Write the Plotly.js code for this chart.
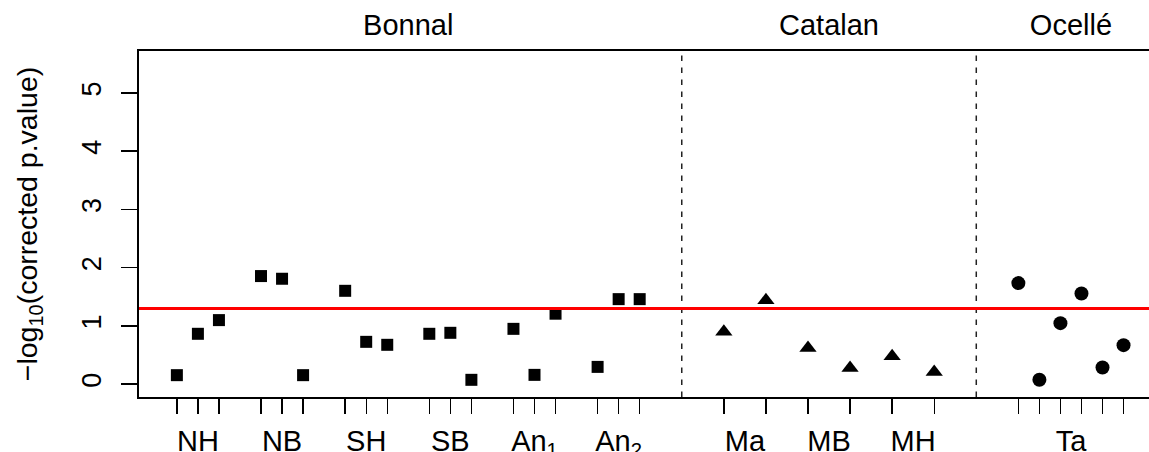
<!DOCTYPE html>
<html>
<head>
<meta charset="utf-8">
<script src="https://cdn.plot.ly/plotly-3.0.1.min.js"></script>
<style>
  html, body { margin: 0; padding: 0; background: #ffffff; }
  #chart { width: 1149px; height: 452px; }
</style>
</head>
<body>
<div id="chart"></div>
<script>
// ---- data ----
const regions = ['Bonnal', 'Catalan', 'Ocellé'];

const bonnalGroups = ['NH', 'NB', 'SH', 'SB', 'An<sub>1</sub>', 'An<sub>2</sub>'];
const bonnalValues = [0.155, 0.865, 1.10,
                      1.856, 1.81, 0.155,
                      1.603, 0.727, 0.676,
                      0.865, 0.882, 0.075,
                      0.95, 0.16, 1.21,
                      0.297, 1.46, 1.46];

const catalanGroups = ['Ma', 'MB', 'MH'];
const catalanValues = [0.90, 1.44, 0.62, 0.28, 0.48, 0.21];

const ocelleGroups = ['Ta'];
const ocelleValues = [1.735, 0.075, 1.048, 1.558, 0.287, 0.67];

const pThreshold = 0.05;

// ---- x positions built from the group structure ----
const bonnalX = [], catalanX = [], ocelleX = [];
const groupCenters = [], groupLabels = [];
let p = 1;
bonnalGroups.forEach(function (g) {
  const xs = [];
  for (let k = 0; k < 3; k++) { xs.push(p); p += 1; }
  bonnalX.push.apply(bonnalX, xs);
  groupCenters.push((xs[0] + xs[xs.length - 1]) / 2); groupLabels.push(g);
  p += 1;
});
const sep1 = p; p += 2;
catalanGroups.forEach(function (g) {
  const xs = [p, p + 2];
  p += 4;
  catalanX.push.apply(catalanX, xs);
  groupCenters.push((xs[0] + xs[1]) / 2); groupLabels.push(g);
});
const sep2 = p; p = sep2 + 2;
for (let k = 0; k < ocelleValues.length; k++) { ocelleX.push(p); p += 1; }
groupCenters.push((ocelleX[0] + ocelleX[ocelleX.length - 1]) / 2); groupLabels.push(ocelleGroups[0]);

const regionCenters = [
  (bonnalX[0] + bonnalX[bonnalX.length - 1]) / 2,
  (catalanX[0] + catalanX[catalanX.length - 1]) / 2,
  (ocelleX[0] + ocelleX[ocelleX.length - 1]) / 2
];
const allX = bonnalX.concat(catalanX, ocelleX);
const xmin = 1, xmax = allX[allX.length - 1];
const xr = [xmin - 0.04 * (xmax - xmin), 0];
// plot region continues past the right edge of the picture (cropped)
xr[1] = xr[0] + 48.01;

const FONT = 'Liberation Sans, Arial, Helvetica, sans-serif';

const traces = [
  { x: bonnalX, y: bonnalValues, type: 'scatter', mode: 'markers',
    marker: { symbol: 'square', size: 12, color: '#000000', line: { width: 0 } },
    hoverinfo: 'skip', showlegend: false },
  { x: catalanX, y: catalanValues, type: 'scatter', mode: 'markers', xaxis: 'x2',
    marker: { symbol: 'triangle-up', size: 15, color: '#000000', line: { width: 0 } },
    hoverinfo: 'skip', showlegend: false },
  { x: ocelleX, y: ocelleValues, type: 'scatter', mode: 'markers', xaxis: 'x3',
    marker: { symbol: 'circle', size: 14, color: '#000000', line: { width: 0 } },
    hoverinfo: 'skip', showlegend: false }
];

const thr = -Math.log10(pThreshold);

const layout = {
  width: 1149, height: 452,
  margin: { l: 139, r: 0, t: 51, b: 55, pad: 0 },
  paper_bgcolor: '#ffffff', plot_bgcolor: '#ffffff',
  font: { family: FONT, size: 27, color: '#000000' },
  showlegend: false,
  xaxis: {
    range: xr, tickmode: 'array', tickvals: allX, showticklabels: false,
    ticks: 'outside', ticklen: 15, tickwidth: 1.4, tickcolor: '#000000',
    showline: true, linecolor: '#000000', linewidth: 1.6, mirror: true,
    showgrid: false, zeroline: false, fixedrange: true
  },
  xaxis2: {
    overlaying: 'x', anchor: 'y', side: 'bottom', range: xr,
    tickmode: 'array', tickvals: groupCenters, ticktext: groupLabels,
    ticks: '', showline: false, showgrid: false, zeroline: false,
    ticklabelstandoff: 24, tickfont: { family: FONT, size: 29, color: '#000000' }
  },
  xaxis3: {
    overlaying: 'x', anchor: 'y', side: 'top', range: xr,
    tickmode: 'array', tickvals: regionCenters, ticktext: regions,
    ticks: '', showline: false, showgrid: false, zeroline: false,
    ticklabelstandoff: 9, tickfont: { family: FONT, size: 29, color: '#000000' }
  },
  yaxis: {
    range: [-0.22, 5.72], tickmode: 'array', tickvals: [0, 1, 2, 3, 4, 5],
    ticks: 'outside', ticklen: 16, tickwidth: 1.4, tickcolor: '#000000',
    tickangle: -90, ticklabelstandoff: 10,
    showline: true, linecolor: '#000000', linewidth: 1.6, mirror: false,
    showgrid: false, zeroline: false, fixedrange: true,
    tickfont: { family: FONT, size: 27, color: '#000000' },
    title: { text: '\u2212log<sub>10</sub>(corrected p.value)', standoff: 30,
             font: { family: FONT, size: 28.5, color: '#000000' } }
  },
  shapes: [
    { type: 'line', xref: 'x', yref: 'paper', x0: sep1, x1: sep1, y0: 0, y1: 1,
      line: { color: '#222222', width: 1.5, dash: '5.5px,6.5px' } },
    { type: 'line', xref: 'x', yref: 'paper', x0: sep2, x1: sep2, y0: 0, y1: 1,
      line: { color: '#222222', width: 1.5, dash: '5.5px,6.5px' } },
    { type: 'line', xref: 'paper', yref: 'y', x0: 0, x1: 1, y0: thr, y1: thr,
      line: { color: '#ff0000', width: 3 } }
  ]
};

Plotly.newPlot('chart', traces, layout, { staticPlot: true, displayModeBar: false });
</script>
</body>
</html>
